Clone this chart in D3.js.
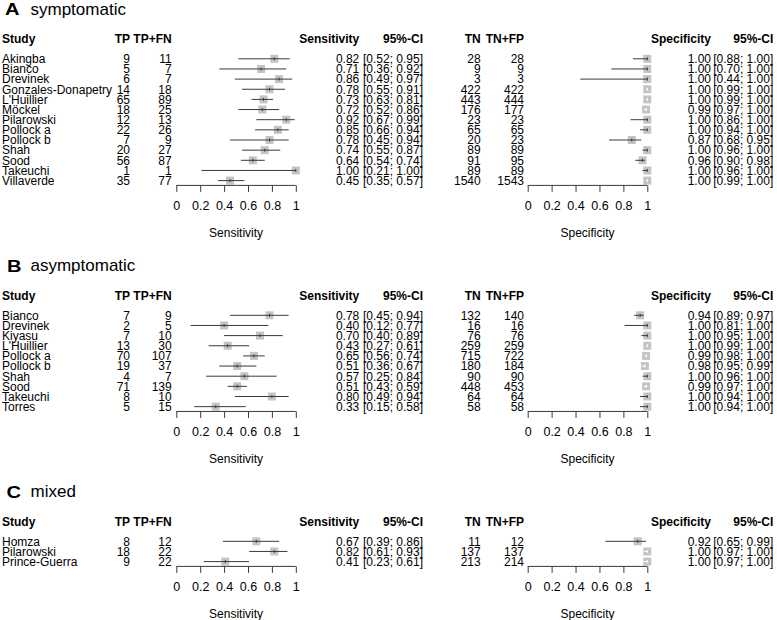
<!DOCTYPE html>
<html>
<head>
<meta charset="utf-8">
<script src="https://cdn.jsdelivr.net/npm/d3@7"></script>
<style>
  body { margin: 0; background: #fff; }
  svg { display: block; font-family: "Liberation Sans", Arial, sans-serif; }
</style>
</head>
<body>
<svg id="chart" width="777" height="620"></svg>
<script>
// ---------- DATA ----------
// Panel A: symptomatic
const studiesA = ["Akingba","Bianco","Drevinek","Gonzales-Donapetry","L'Huillier","Möckel","Pilarowski","Pollock a","Pollock b","Shah","Sood","Takeuchi","Villaverde"];
const tpA   = [9,5,6,14,65,18,12,22,7,20,56,1,35];
const posA  = [11,7,7,18,89,25,13,26,9,27,87,1,77];
const sensA = [0.82,0.71,0.86,0.78,0.73,0.72,0.92,0.85,0.78,0.74,0.64,1.00,0.45];
const sensLoA = [0.52,0.36,0.49,0.55,0.63,0.52,0.67,0.66,0.45,0.55,0.54,0.21,0.35];
const sensHiA = [0.95,0.92,0.97,0.91,0.81,0.86,0.99,0.94,0.94,0.87,0.74,1.00,0.57];
const tnA   = [28,9,3,422,443,176,23,65,20,89,91,89,1540];
const negA  = [28,9,3,422,444,177,23,65,23,89,95,89,1543];
const specA = [1.00,1.00,1.00,1.00,1.00,0.99,1.00,1.00,0.87,1.00,0.96,1.00,1.00];
const specLoA = [0.88,0.70,0.44,0.99,0.99,0.97,0.86,0.94,0.68,0.96,0.90,0.96,0.99];
const specHiA = [1.00,1.00,1.00,1.00,1.00,1.00,1.00,1.00,0.95,1.00,0.98,1.00,1.00];

// Panel B: asymptomatic
const studiesB = ["Bianco","Drevinek","Kiyasu","L'Huillier","Pollock a","Pollock b","Shah","Sood","Takeuchi","Torres"];
const tpB   = [7,2,7,13,70,19,4,71,8,5];
const posB  = [9,5,10,30,107,37,7,139,10,15];
const sensB = [0.78,0.40,0.70,0.43,0.65,0.51,0.57,0.51,0.80,0.33];
const sensLoB = [0.45,0.12,0.40,0.27,0.56,0.36,0.25,0.43,0.49,0.15];
const sensHiB = [0.94,0.77,0.89,0.61,0.74,0.67,0.84,0.59,0.94,0.58];
const tnB   = [132,16,76,259,715,180,90,448,64,58];
const negB  = [140,16,76,259,722,184,90,453,64,58];
const specB = [0.94,1.00,1.00,1.00,0.99,0.98,1.00,0.99,1.00,1.00];
const specLoB = [0.89,0.81,0.95,0.99,0.98,0.95,0.96,0.97,0.94,0.94];
const specHiB = [0.97,1.00,1.00,1.00,1.00,0.99,1.00,1.00,1.00,1.00];

// Panel C: mixed
const studiesC = ["Homza","Pilarowski","Prince-Guerra"];
const tpC   = [8,18,9];
const posC  = [12,22,22];
const sensC = [0.67,0.82,0.41];
const sensLoC = [0.39,0.61,0.23];
const sensHiC = [0.86,0.93,0.61];
const tnC   = [11,137,213];
const negC  = [12,137,214];
const specC = [0.92,1.00,1.00];
const specLoC = [0.65,0.97,0.97];
const specHiC = [0.99,1.00,1.00];

const axisTicks = [0, 0.2, 0.4, 0.6, 0.8, 1];
const tickLabels = ["0", "0.2", "0.4", "0.6", "0.8", "1"];

// ---------- DRAWING ----------
const svg = d3.select("#chart");
const fs = 12;
const boxFill = "#c4c4c4";
const lineCol = "#3a3a3a";
const rowStep = 10.15;
const fmt = d3.format(".2f");

const xSens = d3.scaleLinear().domain([0, 1]).range([176.3, 295.8]);
const xSpec = d3.scaleLinear().domain([0, 1]).range([527.7, 647.3]);

const col = { study: 2, tp: 130, pos: 171.7, sensVal: 359.3, sensCI: 423, tn: 480.7, neg: 524, specVal: 711, specCI: 773.3 };

function txt(g, x, y, s, anchor, weight) {
  return g.append("text").attr("x", x).attr("y", y).attr("text-anchor", anchor || "start")
    .attr("font-size", fs).attr("font-weight", weight || "normal").attr("fill", "#000").text(s);
}

function drawCI(g, x, y, est, lo, hi) {
  const half = 4;
  const cx = x(est);
  const inside = (x(lo) >= cx - half) && (x(hi) <= cx + half);
  g.append("rect").attr("x", cx - half).attr("y", y - half).attr("width", 2 * half).attr("height", 2 * half)
    .attr("fill", boxFill);
  const c = inside ? "#fff" : lineCol;
  g.append("line").attr("x1", x(lo)).attr("x2", x(hi)).attr("y1", y).attr("y2", y)
    .attr("stroke", c).attr("stroke-width", 1);
  g.append("line").attr("x1", cx).attr("x2", cx).attr("y1", y - 1.5).attr("y2", y + 1.5)
    .attr("stroke", c).attr("stroke-width", 1);
}

function drawAxis(g, x, yAxis, title) {
  const ax = d3.axisBottom(x).tickValues(axisTicks).tickSize(6.5).tickPadding(9)
    .tickFormat((d, i) => tickLabels[i]);
  const a = g.append("g").attr("transform", `translate(0,${yAxis})`).call(ax);
  a.select(".domain").attr("d", `M${x(0)},0H${x(1)}`).attr("stroke", lineCol);
  a.selectAll(".tick line").attr("stroke", lineCol);
  a.selectAll(".tick text").attr("font-size", 12.5).attr("fill", "#000")
    .attr("font-family", "Liberation Sans, Arial, sans-serif");
  g.append("text").attr("x", (x(0) + x(1)) / 2).attr("y", yAxis + 47 + 4.3).attr("text-anchor", "middle")
    .attr("font-size", fs).attr("fill", "#000").text(title);
}

function panel(letter, letterX, name, baseY, studies, tp, pos, sens, sLo, sHi, tn, neg, spec, pLo, pHi) {
  const g = svg.append("g");
  g.append("text").attr("x", letterX).attr("y", baseY + 0.5).attr("font-size", 16.5).attr("font-weight", "bold")
    .attr("fill", "#000").attr("textLength", 14.5).attr("lengthAdjust", "spacingAndGlyphs").text(letter);
  g.append("text").attr("x", 30.5).attr("y", baseY).attr("font-size", 17).attr("fill", "#000").text(name);

  const headerY = baseY + 24.3 + 4.3;
  txt(g, col.study, headerY, "Study", "start", "bold");
  txt(g, col.tp, headerY, "TP", "end", "bold");
  txt(g, col.pos, headerY, "TP+FN", "end", "bold");
  txt(g, col.sensVal, headerY, "Sensitivity", "end", "bold");
  txt(g, col.sensCI, headerY, "95%-CI", "end", "bold");
  txt(g, col.tn, headerY, "TN", "end", "bold");
  txt(g, col.neg, headerY, "TN+FP", "end", "bold");
  txt(g, col.specVal, headerY, "Specificity", "end", "bold");
  txt(g, col.specCI, headerY, "95%-CI", "end", "bold");

  const first = baseY + 44.3;
  const y = d3.scaleLinear().domain([0, 1]).range([first, first + rowStep]);

  studies.forEach((s, i) => {
    const yc = y(i), yb = yc + 4.3;
    txt(g, col.study, yb, s);
    txt(g, col.tp, yb, tp[i], "end");
    txt(g, col.pos, yb, pos[i], "end");
    txt(g, col.sensVal, yb, fmt(sens[i]), "end");
    txt(g, col.sensCI, yb, `[${fmt(sLo[i])}; ${fmt(sHi[i])}]`, "end");
    txt(g, col.tn, yb, tn[i], "end");
    txt(g, col.neg, yb, neg[i], "end");
    txt(g, col.specVal, yb, fmt(spec[i]), "end");
    txt(g, col.specCI, yb, `[${fmt(pLo[i])}; ${fmt(pHi[i])}]`, "end");
    drawCI(g, xSens, yc, sens[i], sLo[i], sHi[i]);
    drawCI(g, xSpec, yc, spec[i], pLo[i], pHi[i]);
  });

  const yAxis = y(studies.length - 1) + 4.8;
  drawAxis(g, xSens, yAxis, "Sensitivity");
  drawAxis(g, xSpec, yAxis, "Specificity");
}

panel("A", 5, "symptomatic", 14.5, studiesA, tpA, posA, sensA, sensLoA, sensHiA, tnA, negA, specA, specLoA, specHiA);
panel("B", 7, "asymptomatic", 271, studiesB, tpB, posB, sensB, sensLoB, sensHiB, tnB, negB, specB, specLoB, specHiB);
panel("C", 6.5, "mixed", 497, studiesC, tpC, posC, sensC, sensLoC, sensHiC, tnC, negC, specC, specLoC, specHiC);
</script>
</body>
</html>
